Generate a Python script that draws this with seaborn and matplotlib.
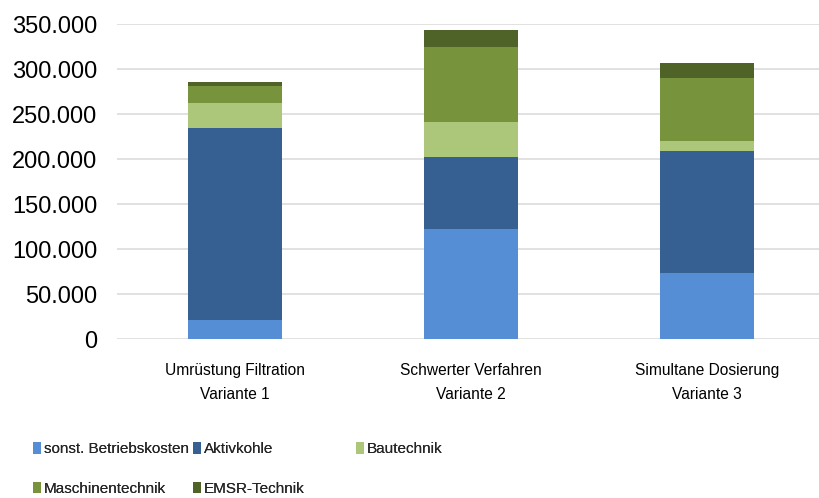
import numpy as np
import pandas as pd
import matplotlib
matplotlib.use("Agg")
import matplotlib.pyplot as plt
import seaborn as sns


# data (EUR)
categories = ["Umrüstung Filtration\nVariante 1",
              "Schwerter Verfahren\nVariante 2",
              "Simultane Dosierung\nVariante 3"]
sonst_betriebskosten = [21000, 122000, 74000]
aktivkohle = [213400, 80600, 134900]
bautechnik = [27500, 38900, 11100]
maschinentechnik = [19200, 83300, 70000]
emsr_technik = [4100, 19200, 16700]
y_ticks = [0, 50000, 100000, 150000, 200000, 250000, 300000, 350000]

series_names = ["sonst. Betriebskosten", "Aktivkohle", "Bautechnik",
                "Maschinentechnik", "EMSR-Technik"]
series_values = [sonst_betriebskosten, aktivkohle, bautechnik,
                 maschinentechnik, emsr_technik]
colors = ["#558ED5", "#376092", "#ADC77A", "#77933C", "#4F6228"]

sns.set_theme(style="white")
plt.rcParams["font.family"] = ["Liberation Sans", "DejaVu Sans"]

# cumulative heights so the layers can be drawn back to front
cum = np.cumsum(np.array(series_values), axis=0)

fig = plt.figure(figsize=(8.19, 4.98), dpi=100)
ax = fig.add_axes([117 / 819, 0.319, 708 / 819, 0.6325])

containers = {}
for i in reversed(range(len(series_names))):
    df = pd.DataFrame({"cat": categories, "val": cum[i]})
    sns.barplot(data=df, x="cat", y="val", color=colors[i], saturation=1,
                width=0.4, ax=ax, linewidth=0, zorder=2)
    containers[series_names[i]] = ax.containers[-1]

ax.set_xlim(-0.5, 2.5)
ax.set_ylim(0, 350000)
ax.set_yticks(y_ticks)
ax.set_yticklabels([f"{v:,.0f}".replace(",", ".") for v in y_ticks],
                   fontsize=17, color="#000000")
ax.set_xticks(range(len(categories)))
ax.set_xticklabels(categories, fontsize=11.2, color="#000000",
                   linespacing=1.75)
ax.tick_params(axis="y", length=0, pad=14)
ax.tick_params(axis="x", length=0, pad=17)
ax.set_xlabel("")
ax.set_ylabel("")
ax.grid(axis="y", color="#D9D9D9", linewidth=1.1, zorder=0)
ax.set_axisbelow(True)
for s in ax.spines.values():
    s.set_visible(False)

# legend in three fixed-width columns, like the original
legend_cols = [
    (33 / 819, ["sonst. Betriebskosten", "Maschinentechnik"]),
    (193 / 819, ["Aktivkohle", "EMSR-Technik"]),
    (356 / 819, ["Bautechnik"]),
]
for x0, names in legend_cols:
    leg = fig.legend([containers[n] for n in names], names,
                     loc="upper left", bbox_to_anchor=(x0, 0.112),
                     frameon=False, borderpad=0, borderaxespad=0,
                     handlelength=0.5, handleheight=0.8, handletextpad=0.2,
                     labelspacing=1.65, prop={"size": 11})
    fig.add_artist(leg)

fig.savefig("out.png", dpi=100)
